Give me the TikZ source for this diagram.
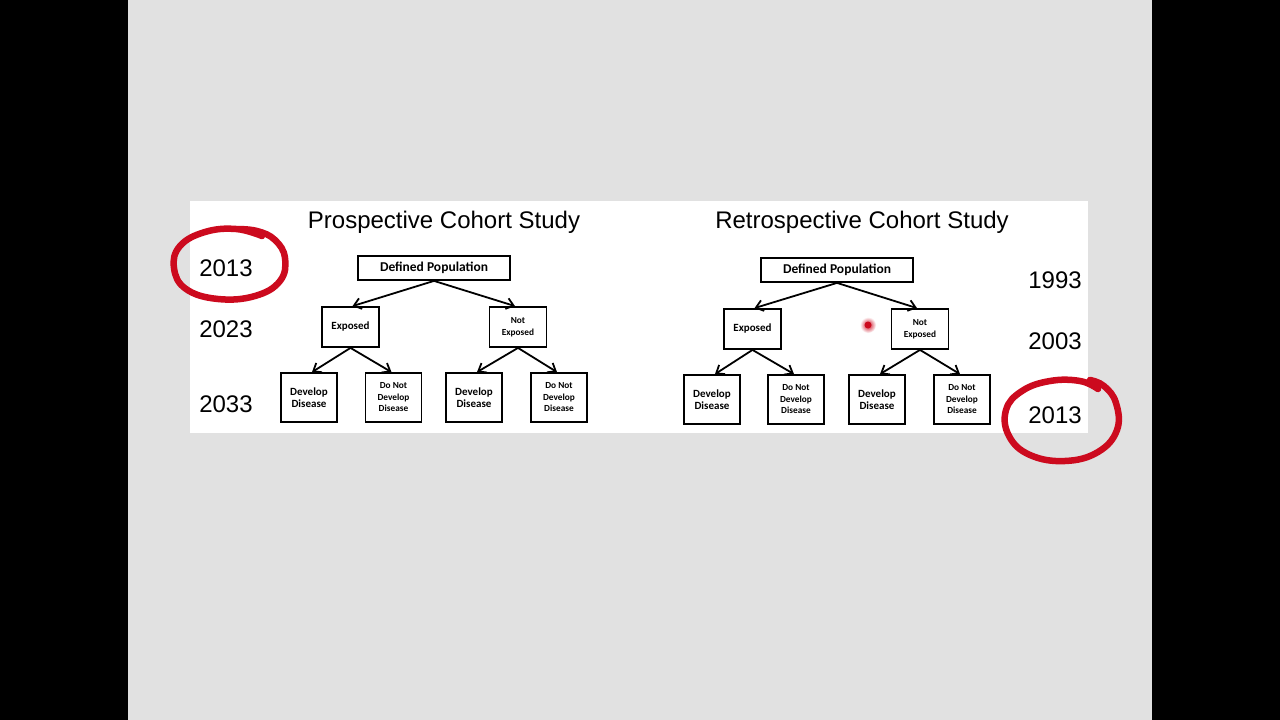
\documentclass[tikz,border=0pt]{standalone}
\usepackage{fontspec}
\setmainfont{Liberation Sans}
\newfontfamily\boxfont{Carlito}
\usetikzlibrary{arrows.meta, positioning}

\definecolor{slidegray}{HTML}{E1E1E1}
\definecolor{penred}{HTML}{CC0A1E}

\begin{document}
\begin{tikzpicture}[
    x=1pt, y=-1pt,
    box/.style={rectangle, draw, line width=1.8pt, fill=white, align=center, inner sep=1pt, font=\boxfont\bfseries\fontsize{11}{12}\selectfont},
    top/.style={box, minimum width=152pt, minimum height=24pt, font=\boxfont\bfseries\fontsize{13.5}{15}\selectfont},
    mid/.style={box, minimum width=57pt, minimum height=40pt},
    leaf/.style={box, minimum width=56pt, minimum height=49pt},
    small/.style={font=\boxfont\bfseries\fontsize{9.3}{11.5}\selectfont},
    title/.style={font=\fontsize{24}{28}\selectfont},
    year/.style={font=\fontsize{24}{28}\selectfont},
    arrow/.style={-{Straight Barb[length=7pt, width=11pt]}, line width=1.8pt},
    pen/.style={draw=penred, line width=6.5pt, line cap=round, line join=round},
]
    % Background
    \fill[black] (0,0) rectangle (1280,720);
    \fill[slidegray] (128,0) rectangle (1152,720);
    \fill[white] (190,201) rectangle (1088,433);

    % Titles
    \node[title] (protitle) at (444,222) {Prospective Cohort Study};
    \node[title] (rettitle) at (862,222) {Retrospective Cohort Study};

    % Prospective tree
    \node[top] (ppop) at (434,268) {Defined Population};
    \node[mid] (pexp) at (350.5,327) {Exposed};
    \node[mid, small] (pnexp) at (518,327) {Not\\Exposed};
    \node[leaf] (pexpdis) at (309,397.5) {Develop\\Disease};
    \node[leaf, small] (pexpno) at (393.5,397.5) {Do Not\\Develop\\Disease};
    \node[leaf] (pnexpdis) at (474,397.5) {Develop\\Disease};
    \node[leaf, small] (pnexpno) at (559,397.5) {Do Not\\Develop\\Disease};

    % Retrospective tree
    \node[top] (rpop) at (837,270) {Defined Population};
    \node[mid] (rexp) at (752.5,329) {Exposed};
    \node[mid, small] (rnexp) at (920,329) {Not\\Exposed};
    \node[leaf] (rexpdis) at (712,399.5) {Develop\\Disease};
    \node[leaf, small] (rexpno) at (796,399.5) {Do Not\\Develop\\Disease};
    \node[leaf] (rnexpdis) at (877,399.5) {Develop\\Disease};
    \node[leaf, small] (rnexpno) at (962,399.5) {Do Not\\Develop\\Disease};

    % Years
    \node[year] (p2013) at (226,268) {2013};
    \node[year] (p2023) at (226,329) {2023};
    \node[year] (p2033) at (226,404) {2033};
    \node[year] (r1993) at (1055,280) {1993};
    \node[year] (r2003) at (1055,341) {2003};
    \node[year] (r2013) at (1055,415) {2013};

    % Arrows
    \draw[arrow] (ppop.south) -- ([xshift=2pt]pexp.north);
    \draw[arrow] (ppop.south) -- ([xshift=-3pt]pnexp.north);
    \draw[arrow] (pexp.south) -- ([xshift=3pt]pexpdis.north);
    \draw[arrow] (pexp.south) -- ([xshift=-2pt]pexpno.north);
    \draw[arrow] (pnexp.south) -- ([xshift=3pt]pnexpdis.north);
    \draw[arrow] (pnexp.south) -- ([xshift=-2pt]pnexpno.north);
    \draw[arrow] (rpop.south) -- ([xshift=2pt]rexp.north);
    \draw[arrow] (rpop.south) -- ([xshift=-3pt]rnexp.north);
    \draw[arrow] (rexp.south) -- ([xshift=3pt]rexpdis.north);
    \draw[arrow] (rexp.south) -- ([xshift=-2pt]rexpno.north);
    \draw[arrow] (rnexp.south) -- ([xshift=3pt]rnexpdis.north);
    \draw[arrow] (rnexp.south) -- ([xshift=-2pt]rnexpno.north);

    % Pen marks
    \draw[pen] plot[smooth, tension=0.7] coordinates {(262,236) (236,229) (205,232) (180,246) (174,268) (186,289) (218,299) (255,296) (280,281) (285,258) (275,240) (257,231) (236,229)};
    \draw[pen] plot[smooth, tension=0.7] coordinates {(1098,389) (1080,381) (1050,381) (1022,391) (1006,410) (1009,436) (1030,455) (1065,461) (1098,452) (1117,430) (1116,403) (1104,386) (1090,380)};

    % Laser pointer
    \shade[inner color=penred, outer color=white] (868,325) circle (8pt);
    \fill[penred] (868,325) circle (3.5pt);
\end{tikzpicture}
\end{document}
